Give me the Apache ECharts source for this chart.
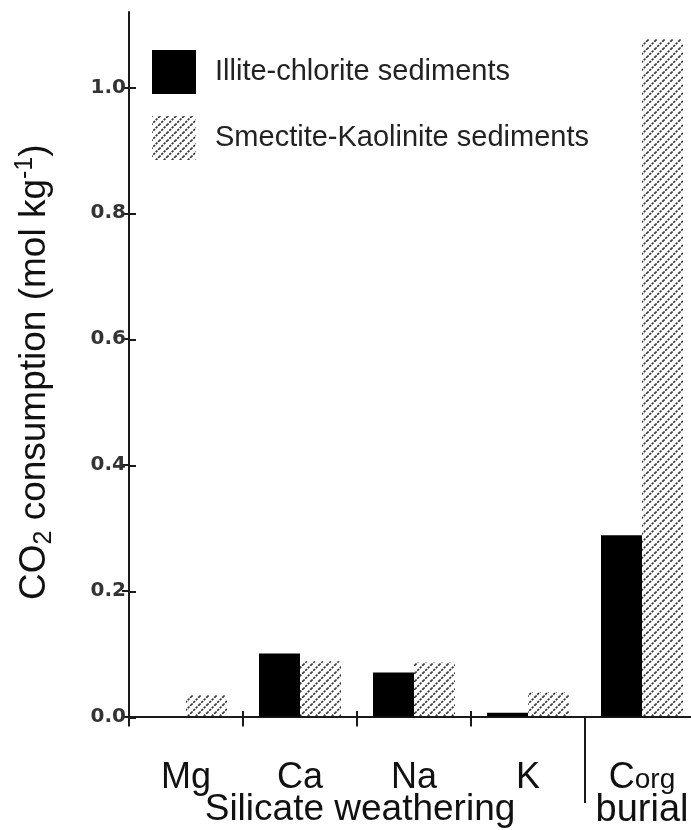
<!DOCTYPE html>
<html>
<head>
<meta charset="utf-8">
<script src="https://cdn.jsdelivr.net/npm/echarts@6/dist/echarts.min.js"></script>
<style>
  html, body { margin: 0; padding: 0; background: #fff; overflow: hidden; }
  #chart { width: 710px; height: 830px; }
</style>
</head>
<body>
<div id="chart"></div>
<script>
// data
const categories = ['Mg', 'Ca', 'Na', 'K', 'Corg'];
const illiteChlorite = [0, 0.100, 0.070, 0.006, 0.288];
const smectiteKaolinite = [0.034, 0.088, 0.086, 0.039, 1.077];
const yTicks = [0, 0.2, 0.4, 0.6, 0.8, 1.0];
const yMax = 1.12;
// category borders (one more than categories), for the extra tick axes
const borders = categories.concat('end');

const ink = '#1a1a1a';
const sans = 'Liberation Sans';

// diagonal hatch used for the smectite bars
function makeHatch() {
  const c = document.createElement('canvas');
  c.width = 8;
  c.height = 8;
  const g = c.getContext('2d');
  g.strokeStyle = '#2a2a2a';
  g.lineWidth = 1.6;
  g.setLineDash([2.2, 1.2]);
  g.beginPath();
  g.moveTo(-1, 9); g.lineTo(9, -1);
  g.moveTo(-1, 1); g.lineTo(1, -1);
  g.moveTo(7, 9); g.lineTo(9, 7);
  g.stroke();
  return c;
}

// plot area; it runs a little past the right edge of the picture
const gridRect = { left: 129, top: 12, width: 570, height: 706 };

const chart = echarts.init(document.getElementById('chart'), null, { renderer: 'canvas' });

const option = {
  animation: false,
  grid: [
    Object.assign({}, gridRect),
    Object.assign({}, gridRect),
    Object.assign({}, gridRect)
  ],
  legend: {
    orient: 'vertical',
    left: 147,
    top: 45,
    icon: 'rect',
    itemWidth: 44,
    itemHeight: 44,
    itemGap: 22,
    textStyle: { fontFamily: sans, fontSize: 29, color: '#222', padding: [0, 0, 0, 14] },
    data: ['Illite-chlorite sediments', 'Smectite-Kaolinite sediments']
  },
  xAxis: [
    {
      gridIndex: 0,
      type: 'category',
      data: categories,
      boundaryGap: true,
      axisLine: { show: true, lineStyle: { color: ink, width: 2 } },
      axisTick: { show: true, length: 10, interval: i => i <= 3, lineStyle: { color: ink, width: 2 } },
      axisLabel: {
        margin: 45,
        interval: 0,
        formatter: v => v === 'Corg' ? '{t|C}{s|org}\n{b|burial}' : '{t|' + v + '}',
        rich: {
          t: { fontFamily: sans, fontSize: 36, color: '#111', lineHeight: 33 },
          s: { fontFamily: sans, fontSize: 28, color: '#111', lineHeight: 14, verticalAlign: 'bottom' },
          b: { fontFamily: sans, fontSize: 38, color: '#111', lineHeight: 33 }
        }
      }
    },
    {
      // short ticks poking up into the plot at the inner borders
      gridIndex: 1,
      type: 'category',
      data: borders,
      boundaryGap: false,
      axisLine: { show: false },
      axisTick: { show: true, inside: true, length: 7, interval: i => i >= 1 && i <= 3, lineStyle: { color: ink, width: 2 } },
      axisLabel: { show: false }
    },
    {
      // long divider between silicate weathering and burial
      gridIndex: 2,
      type: 'category',
      data: borders,
      boundaryGap: false,
      axisLine: { show: false },
      axisTick: { show: true, length: 85, interval: i => i === 4, lineStyle: { color: ink, width: 2 } },
      axisLabel: { show: false }
    }
  ],
  yAxis: [
    {
      gridIndex: 0,
      type: 'value',
      min: 0,
      max: yMax,
      splitLine: { show: false },
      axisLine: { show: true, lineStyle: { color: ink, width: 2 } },
      axisTick: { show: true, length: 7, customValues: yTicks, lineStyle: { color: ink, width: 2 } },
      axisLabel: {
        customValues: yTicks,
        formatter: v => v.toFixed(1),
        fontFamily: 'DejaVu Sans',
        fontWeight: 'bold',
        fontSize: 20,
        color: '#333',
        margin: 3
      },
      name: 'CO{sub|2} consumption (mol kg{sup|-1})',
      nameLocation: 'middle',
      nameGap: 72,
      nameTextStyle: {
        fontFamily: sans,
        fontSize: 37,
        color: '#111',
        lineHeight: 44,
        padding: [0, 16, 0, 0],
        rich: {
          sub: { fontFamily: sans, fontSize: 25, color: '#111', lineHeight: 24, verticalAlign: 'bottom' },
          sup: { fontFamily: sans, fontSize: 25, color: '#111', lineHeight: 26, verticalAlign: 'top' }
        }
      }
    },
    {
      gridIndex: 1,
      type: 'value',
      min: 0,
      max: yMax,
      splitLine: { show: false },
      axisLine: { show: false },
      axisTick: { show: true, inside: true, length: 7, customValues: yTicks, lineStyle: { color: ink, width: 2 } },
      axisLabel: { show: false }
    },
    {
      gridIndex: 2,
      type: 'value',
      min: 0,
      max: yMax,
      splitLine: { show: false },
      axisLine: { show: false },
      axisTick: { show: false },
      axisLabel: { show: false }
    }
  ],
  graphic: [
    {
      type: 'text',
      x: 360,
      y: 810,
      style: {
        text: 'Silicate weathering',
        fontFamily: sans,
        fontSize: 37,
        fill: '#111',
        textAlign: 'center',
        textVerticalAlign: 'middle',
        align: 'center',
        verticalAlign: 'middle'
      }
    }
  ],
  series: [
    {
      name: 'Illite-chlorite sediments',
      type: 'bar',
      xAxisIndex: 0,
      yAxisIndex: 0,
      data: illiteChlorite,
      barWidth: 41,
      barGap: '0%',
      itemStyle: { color: '#000' }
    },
    {
      name: 'Smectite-Kaolinite sediments',
      type: 'bar',
      xAxisIndex: 0,
      yAxisIndex: 0,
      data: smectiteKaolinite,
      barWidth: 41,
      barGap: '0%',
      itemStyle: { color: { image: makeHatch(), repeat: 'repeat' } }
    }
  ]
};

chart.setOption(option);
</script>
</body>
</html>
